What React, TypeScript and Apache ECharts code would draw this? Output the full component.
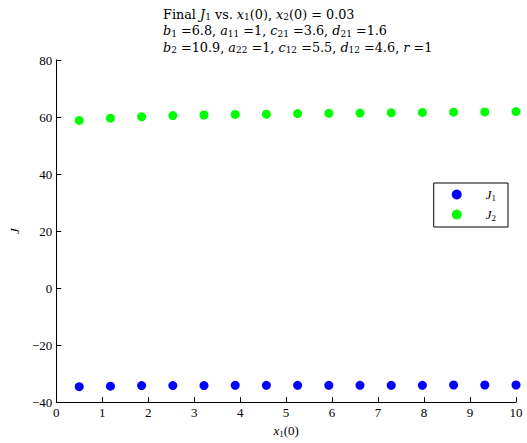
import React, { useEffect, useRef } from "react";
import * as echarts from "echarts";

const xValues = [0.5, 1.179, 1.857, 2.536, 3.214, 3.893, 4.571, 5.25, 5.929, 6.607, 7.286, 7.964, 8.643, 9.321, 10];
const j1Values = [-34.6, -34.4, -34.2, -34.2, -34.2, -34.1, -34.1, -34.1, -34.1, -34.1, -34.1, -34.1, -34.0, -34.0, -34.0];
const j2Values = [58.8, 59.6, 60.1, 60.5, 60.7, 60.9, 61.0, 61.2, 61.3, 61.4, 61.5, 61.6, 61.7, 61.8, 61.9];
const seriesNames = ["J1", "J2"];
const seriesColors = ["#0000ff", "#00ff00"];

const FONT = "Liberation Serif";
const TFONT = "DejaVu Serif";

const titleText = [
  "{n|Final }{i|J}{s|1}{n| vs. }{i|x}{s|1}{n|(0), }{i|x}{s|2}{n|(0) = 0.03}",
  "{i|b}{s|1}{n| =6.8, }{i|a}{s|11}{n| =1, }{i|c}{s|21}{n| =3.6, }{i|d}{s|21}{n| =1.6}",
  "{i|b}{s|2}{n| =10.9, }{i|a}{s|22}{n| =1, }{i|c}{s|12}{n| =5.5, }{i|d}{s|12}{n| =4.6, }{i|r}{n| =1}",
].join("\n");

const titleRich = {
  n: { fontFamily: TFONT, fontSize: 12.8, color: "#000", lineHeight: 16.5 },
  i: { fontFamily: TFONT, fontStyle: "italic", fontSize: 12.8, color: "#000", lineHeight: 16.5 },
  s: { fontFamily: TFONT, fontSize: 9, color: "#000", padding: [6, 0, 0, 0] },
};

const richStyles = {
  i: { fontFamily: FONT, fontStyle: "italic", fontSize: 13, color: "#000" },
  s: { fontFamily: FONT, fontSize: 9, color: "#000", padding: [6, 0, 0, 0] },
};

export default function App() {
  const ref = useRef<HTMLDivElement>(null);
  useEffect(() => {
    const chart = echarts.init(ref.current!, null, { renderer: "svg" });
    chart.setOption({
      animation: false,
      backgroundColor: "#fff",
      title: {
        text: titleText,
        left: 158,
        top: 1,
        textStyle: {
          fontFamily: TFONT,
          fontSize: 12.8,
          fontWeight: "normal",
          color: "#000",
          lineHeight: 16.5,
          rich: titleRich,
        },
      },
      legend: {
        orient: "vertical",
        right: 19,
        top: 183,
        data: seriesNames,
        icon: "circle",
        itemWidth: 14,
        itemHeight: 10,
        itemGap: 6,
        padding: [5, 12, 5, 18],
        borderColor: "#000",
        borderWidth: 1,
        borderRadius: 0,
        formatter: (name: string) => `{i|J}{s|${name.slice(1)}}`,
        textStyle: { fontFamily: FONT, fontSize: 13, color: "#000", padding: [0, 0, 0, 17], rich: richStyles },
      },
      grid: { left: 53, right: 11, top: 60, bottom: 37 },
      xAxis: {
        type: "value",
        min: 0,
        max: 10,
        interval: 1,
        name: "{i|x}{s|1}(0)",
        nameLocation: "middle",
        nameGap: 20,
        nameTextStyle: { fontFamily: FONT, fontSize: 13, color: "#000", rich: richStyles },
        axisLine: { onZero: false, lineStyle: { color: "#000", width: 1 } },
        axisTick: { inside: true, length: 5, lineStyle: { color: "#000" } },
        axisLabel: { fontFamily: FONT, fontSize: 13, color: "#000", margin: 4 },
        splitLine: { show: false },
      },
      yAxis: {
        type: "value",
        min: -40,
        max: 80,
        interval: 20,
        name: "J",
        nameLocation: "middle",
        nameGap: 32,
        nameTextStyle: { fontFamily: FONT, fontSize: 13, fontStyle: "italic", color: "#000" },
        axisLine: { show: true, onZero: false, lineStyle: { color: "#000", width: 1 } },
        axisTick: { show: true, inside: true, length: 5, lineStyle: { color: "#000" } },
        axisLabel: {
          fontFamily: FONT,
          fontSize: 13,
          color: "#000",
          margin: 4,
          formatter: (v: number) => (v < 0 ? "\u2212" + Math.abs(v) : String(v)),
        },
        splitLine: { show: false },
      },
      series: [
        {
          name: seriesNames[0],
          type: "scatter",
          symbol: "circle",
          symbolSize: 9,
          itemStyle: { color: seriesColors[0], opacity: 1 },
          data: xValues.map((x, i) => [x, j1Values[i]]),
        },
        {
          name: seriesNames[1],
          type: "scatter",
          symbol: "circle",
          symbolSize: 9,
          itemStyle: { color: seriesColors[1], opacity: 1 },
          data: xValues.map((x, i) => [x, j2Values[i]]),
        },
      ],
    });
    return () => chart.dispose();
  }, []);
  return (
    <div
      ref={ref}
      style={{ position: "fixed", left: 0, top: 0, width: 527, height: 443 }}
    />
  );
}
